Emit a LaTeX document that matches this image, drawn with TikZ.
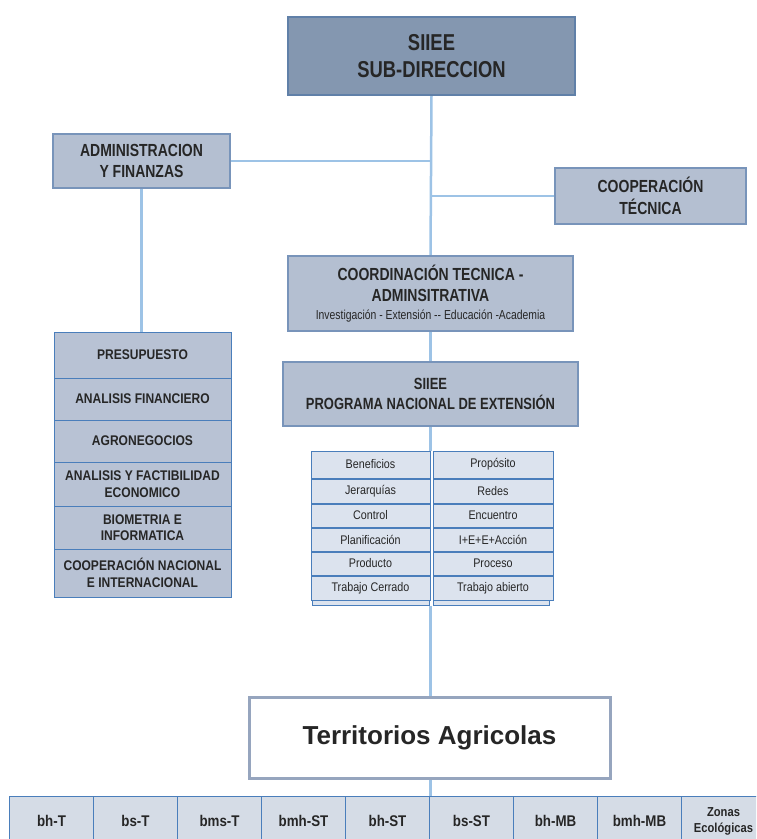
\documentclass[tikz,border=0pt]{standalone}
\usepackage{fontspec}
\setmainfont{Liberation Sans}
\newfontfamily\nar{Liberation Sans}[FakeStretch=0.8]
\newfontfamily\narb{Liberation Sans}[FakeStretch=0.86]
\usetikzlibrary{backgrounds}
\definecolor{topfill}{RGB}{132,151,176}
\definecolor{topdraw}{RGB}{96,128,168}
\definecolor{midfill}{RGB}{180,191,209}
\definecolor{middraw}{RGB}{120,148,186}
\definecolor{stkfill}{RGB}{184,194,212}
\definecolor{blueline}{RGB}{74,126,187}
\definecolor{gridfill}{RGB}{220,227,238}
\definecolor{botfill}{RGB}{213,220,230}
\definecolor{conn}{RGB}{157,195,230}
\definecolor{terrdraw}{RGB}{150,165,190}
\tikzset{
  box/.style={draw, inner sep=0pt, align=center, text=black!85},
  topbox/.style={box, fill=topfill, draw=topdraw, line width=1.5pt},
  midbox/.style={box, fill=midfill, draw=middraw, line width=1.5pt},
  stk/.style={box, fill=stkfill, draw=blueline, line width=1pt, minimum width=177pt,
     font=\narb\bfseries\fontsize{14}{16.5}\selectfont},
  cell/.style={box, fill=gridfill, draw=blueline, line width=1pt,
     font=\narb\fontsize{12.5}{14}\selectfont},
  botcell/.style={box, fill=botfill, draw=blueline, line width=1pt, minimum width=84pt, minimum height=50pt,
     font=\narb\bfseries\fontsize{15.5}{18}\selectfont},
  terr/.style={box, fill=white, draw=terrdraw, line width=3pt},
  link/.style={draw=conn, line width=2.5pt}
}
\begin{document}
\begin{tikzpicture}[x=1pt,y=-1pt]
\useasboundingbox (0,0) rectangle (756,839);
\clip (0,0) rectangle (756,839);

% top
\node[topbox, minimum width=287pt, minimum height=78pt,
      font=\nar\bfseries\fontsize{23}{27}\selectfont] (top) at (431.5,56)
  {SIIEE\\SUB-DIRECCION};

\node[midbox, minimum width=177pt, minimum height=54pt,
      font=\nar\bfseries\fontsize{17.5}{21}\selectfont] (admin) at (141.5,161)
  {ADMINISTRACION\\Y FINANZAS};

\node[midbox, minimum width=191pt, minimum height=56pt,
      font=\nar\bfseries\fontsize{17.5}{22}\selectfont] (coop) at (650.5,196)
  {COOPERACIÓN\\TÉCNICA};

\node[midbox, minimum width=285pt, minimum height=75pt,
      font=\nar\bfseries\fontsize{17.5}{21}\selectfont] (coord) at (430.5,293.5)
  {COORDINACIÓN TECNICA -\\ADMINSITRATIVA\\[-3pt]
   \mdseries\fontsize{13}{14}\selectfont Investigación - Extensión -- Educación -Academia};

\node[midbox, minimum width=295pt, minimum height=64pt,
      font=\nar\bfseries\fontsize{16.2}{20}\selectfont] (prog) at (430.5,394)
  {SIIEE\\PROGRAMA NACIONAL DE EXTENSIÓN};

% left stack
\node[stk, minimum height=46pt] (s1) at (142.5,355) {PRESUPUESTO};
\node[stk, minimum height=42pt] (s2) at (142.5,399) {ANALISIS FINANCIERO};
\node[stk, minimum height=42pt] (s3) at (142.5,441) {AGRONEGOCIOS};
\node[stk, minimum height=44pt] (s4) at (142.5,484) {ANALISIS Y FACTIBILIDAD\\ECONOMICO};
\node[stk, minimum height=43pt] (s5) at (142.5,527.5) {BIOMETRIA E\\INFORMATICA};
\node[stk, minimum height=48pt] (s6) at (142.5,573) {COOPERACIÓN NACIONAL\\E INTERNACIONAL};

% grid
\foreach \nm/\y/\h/\l/\r in {g1/464.5/27/Beneficios/Propósito,
                             g2/491/24/Jerarquías/Redes,
                             g3/515.5/23/Control/Encuentro,
                             g4/539.5/23/Planificación/I+E+E+Acción,
                             g5/563.5/23/Producto/Proceso,
                             g6/588/24/Trabajo Cerrado/Trabajo abierto}{
  \node[cell, minimum width=119pt, minimum height=\h pt] (\nm l) at (370.5,\y) {\l};
  \node[cell, minimum width=120pt, minimum height=\h pt] (\nm r) at (493,\y) {\r};
}
\node[cell, minimum width=117pt, minimum height=5pt] (g7l) at (370.5,602.5) {};
\node[cell, minimum width=116pt, minimum height=5pt] (g7r) at (491,602.5) {};
\coordinate (gtop) at (g1l.north -| prog.south);
\coordinate (gbot) at (g7l.south -| prog.south);

% territorios
\node[terr, minimum width=361pt, minimum height=81pt,
      font=\bfseries\fontsize{26}{30}\selectfont] (terr) at (429.5,737.5)
  {Territorios Agricolas};

% bottom row
\foreach \i/\t in {0/bh-T,1/bs-T,2/bms-T,3/bmh-ST,4/bh-ST,5/bs-ST,6/bh-MB,7/bmh-MB}{
  \node[botcell] (b\i) at ({51.5+84*\i},821) {\t};
}
\node[botcell, font=\narb\bfseries\fontsize{13}{16}\selectfont] (b8) at ({51.5+84*8},821) {Zonas\\Ecológicas};
\coordinate (btop) at (b4.north east);

% connectors
\begin{scope}[on background layer]
  \draw[link] (top.south) -- (coord.north);
  \draw[link] (admin.east) -- (admin.east -| top.south);
  \draw[link] (coop.west) -- (coop.west -| top.south);
  \draw[link] (admin.south) -- (admin.south |- s1.north);
  \draw[link] (coord.south) -- (prog.north);
  \draw[link] (prog.south) -- (gtop);
  \draw[link] (gbot) -- (terr.north -| gbot);
  \draw[link] (terr.south -| gbot) -- (btop -| gbot);
\end{scope}
\end{tikzpicture}
\end{document}
